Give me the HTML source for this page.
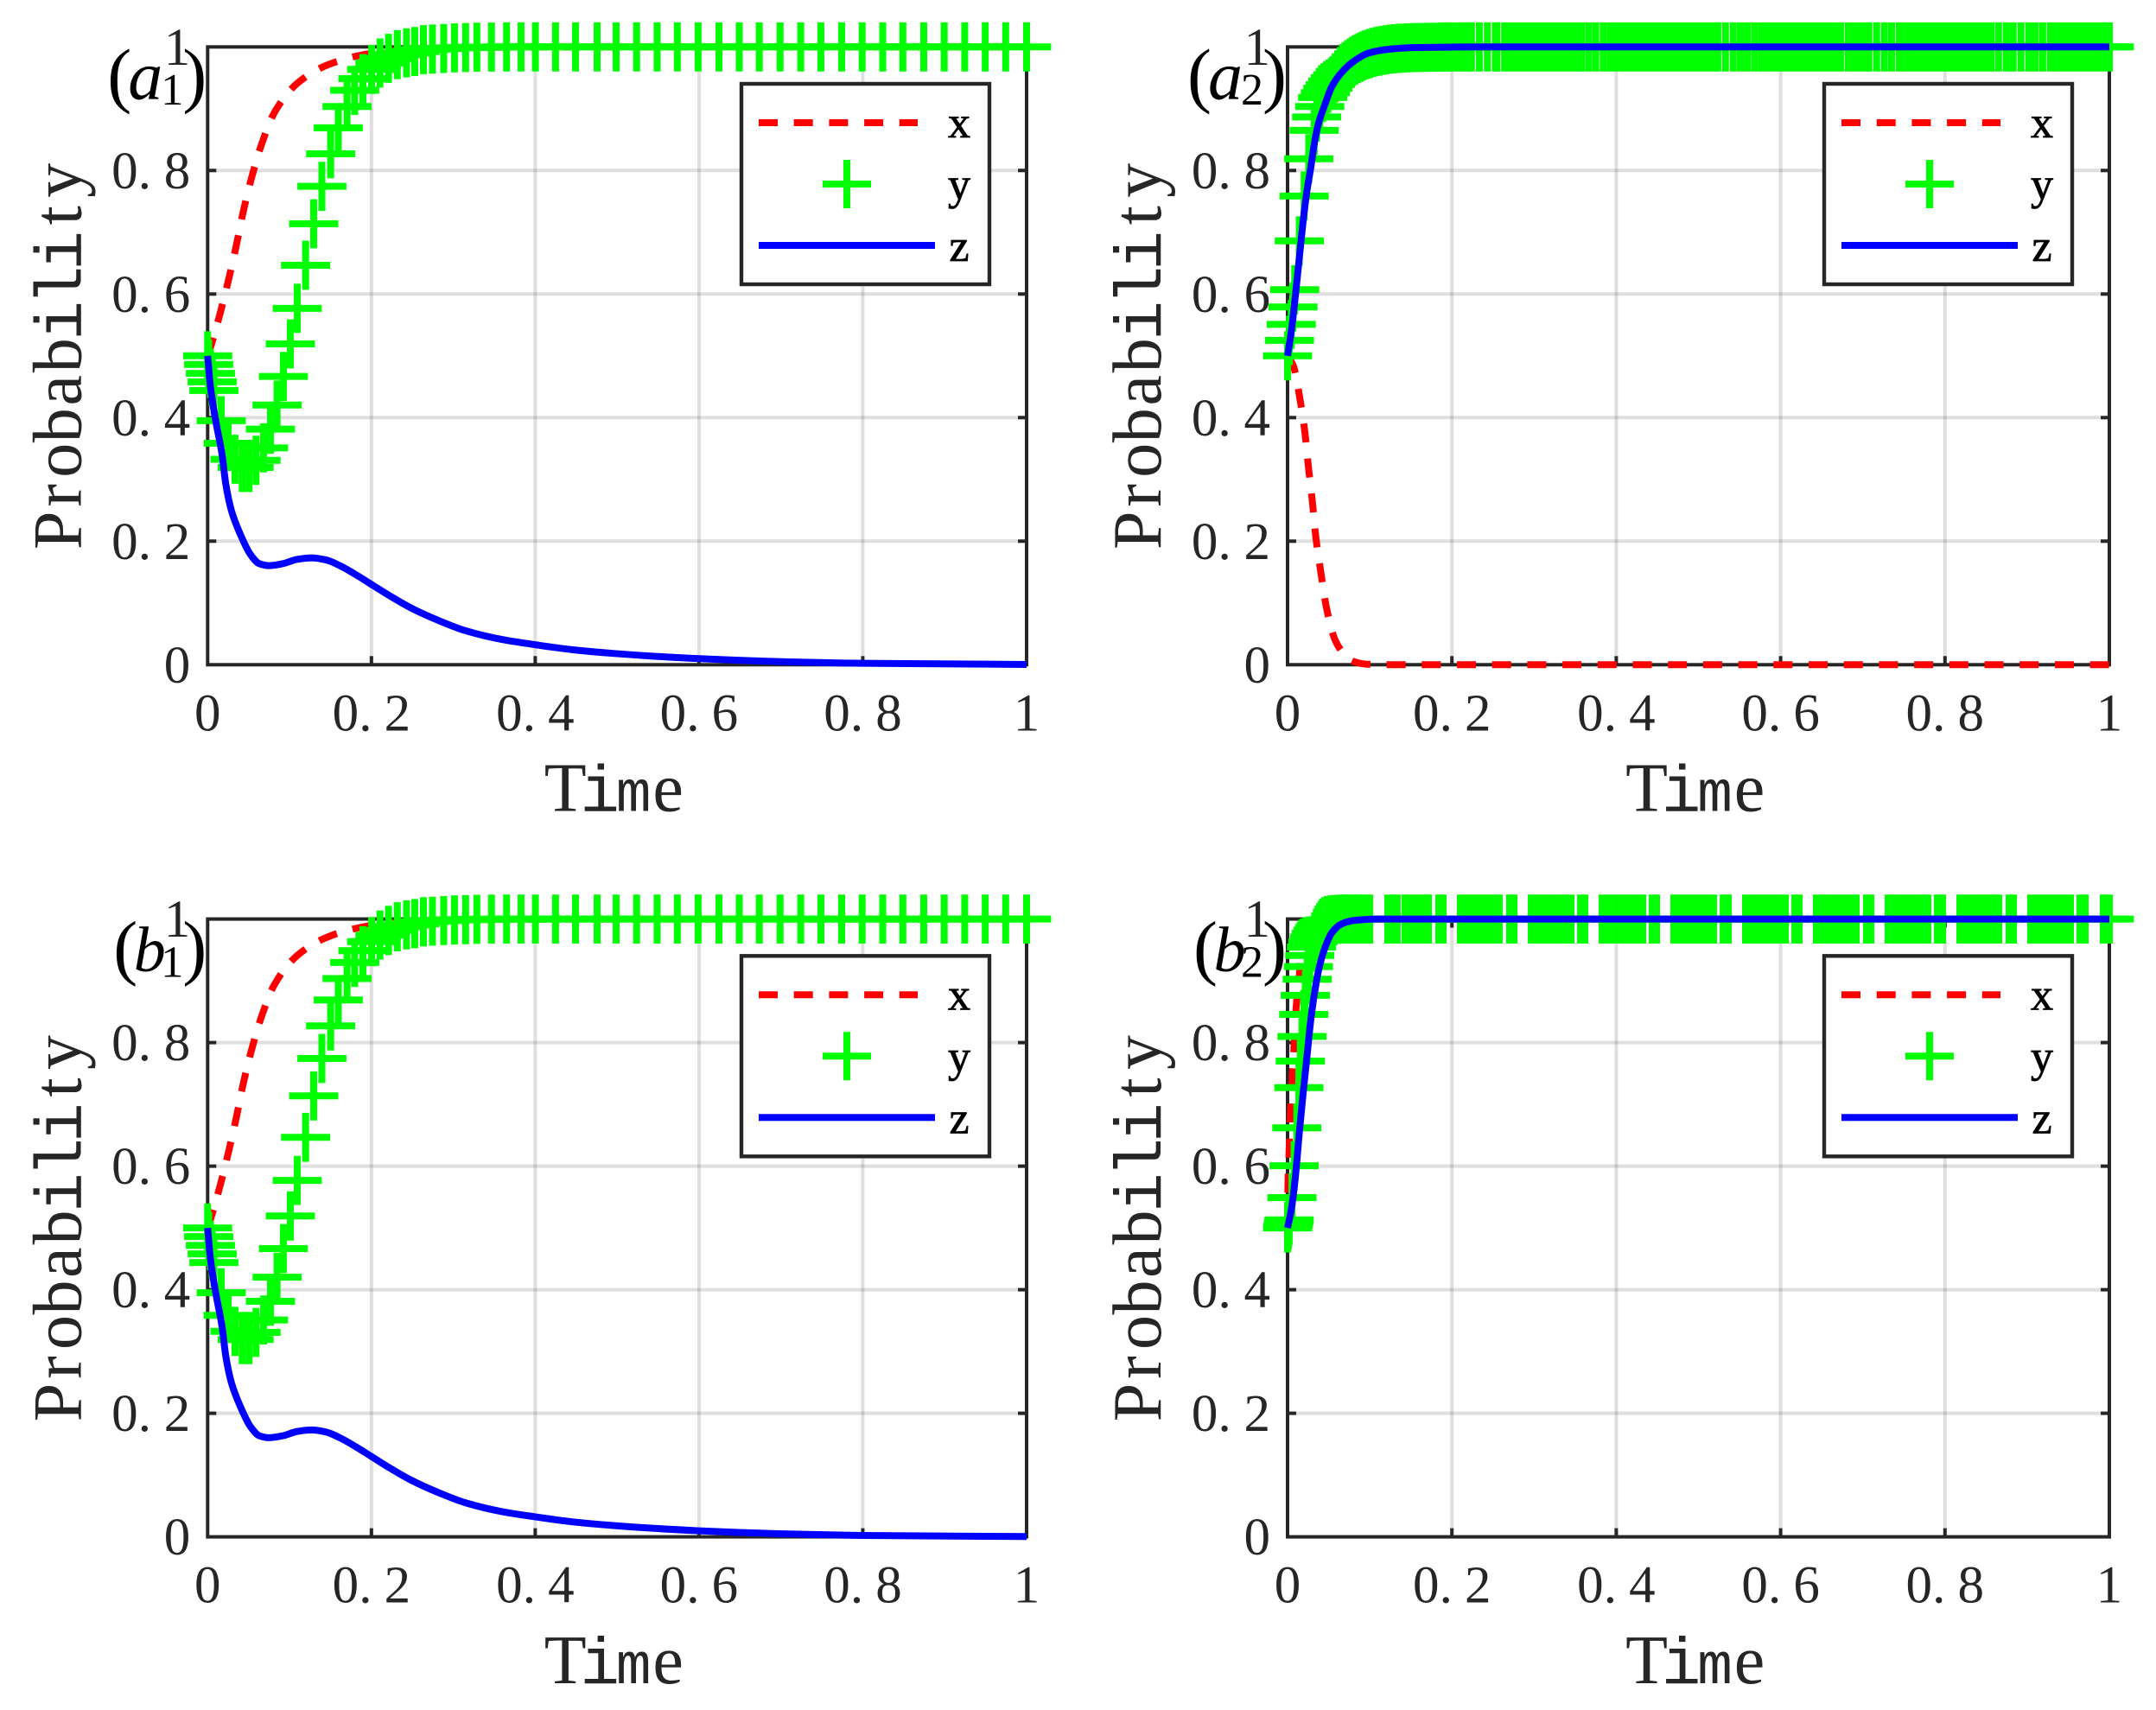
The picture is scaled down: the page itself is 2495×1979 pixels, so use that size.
<!DOCTYPE html>
<html lang="en">
<head>
<meta charset="utf-8">
<title>Probability evolution panels</title>
<style>
html,body{margin:0;padding:0;background:#fff;}
svg{display:block;}
text{font-family:"Liberation Serif","Noto Serif CJK SC",serif;}
.mono{font-family:"Liberation Mono","Noto Sans CJK SC",monospace;}
</style>
</head>
<body>
<svg id="chart" xmlns="http://www.w3.org/2000/svg" width="2495" height="1979" viewBox="0 0 2495 1979"></svg>
<script>
const xTickValues = [0, 0.2, 0.4, 0.6, 0.8, 1];
const yTickValues = [0, 0.2, 0.4, 0.6, 0.8, 1];
const xTickLabels = ['0', '0.2', '0.4', '0.6', '0.8', '1'];
const yTickLabels = ['0', '0.2', '0.4', '0.6', '0.8', '1'];
const legendLabels = ['x', 'y', 'z'];

/* Panel a1 */
const a1XTime = [0,.0047,.0151,.0255,.0349,.0434,.0538,.066,.0816,.1094,.1448,.1849,.218,.265,.36,.5,.75,1];
const a1XProb = [.5,.519,.568,.623,.678,.733,.789,.843,.894,.941,.97,.986,.993,.9975,.9995,.9999,1,1];
const a1ZTime = [0,.0033,.0104,.0175,.0222,.0289,.0394,.0525,.063,.0744,.0919,.1094,.1269,.1444,.1619,.1837,.2,.223,.249,.28,.315,.3587,.399,.446,.4987,.6,.709,.8,1];
const a1ZProb = [.5,.451,.391,.341,.292,.25,.2126,.178,.1636,.1604,.1636,.1706,.173,.1697,.16,.1436,.13,.111,.0914,.0727,.055,.041,.0326,.0242,.018,.0098,.0047,.0023,.0005];
const a1YTime = [0,.0013,.0034,.0055,.0076,.0166,.025,.0334,.0422,.0506,
  .0591,.0683,.0767,.0848,.0925,.101,.1094,.1196,.1295,.1395,
  .1502,.1595,.1702,.1796,.1896,.2002,.2104,.2208,.2316,.2429,
  .2529,.2635,.2745,.2882,.3014,.315,.3287,.3466,.365,.3827,
  .4002,.4248,.4492,.4756,.4988,.5238,.5489,.5735,.5989,.6244,
  .6491,.6736,.699,.7242,.7488,.7742,.7992,.8243,.8489,.8744,
  .8994,.9245,.9495,.9745,1];
const a1YProb = [.5,.486,.4716,.458,.444,.395,.3585,.3326,.3193,.3193,
  .3309,.351,.3813,.4203,.4666,.5193,.5769,.6466,.7137,.7743,
  .827,.8691,.9036,.9297,.9487,.9635,.974,.9815,.9875,.9905,
  .9925,.9955,.9965,.9975,.9985,.999,.9995,.9997,1,1,
  1,1,1,1,1,1,1,1,1,1,
  1,1,1,1,1,1,1,1,1,1,
  1,1,1,1,1];

/* Panel a2 */
const a2XTime = [0,.007,.015,.0211,.0254,.0302,.0344,.0404,.047,.0579,.0684,.0789,.095,.12,1];
const a2XProb = [.5,.484,.431,.376,.32,.264,.2065,.1506,.0946,.04,.0177,.006,.001,0,0];
const a2ZTime = [0,.0047,.0094,.0141,.0188,.0235,.0282,.0329,.0376,.0446,.054,.0657,.0798,.0986,.122,.155,.25,1];
const a2ZProb = [.5,.541,.596,.656,.716,.766,.804,.846,.876,.9035,.936,.9585,.976,.99,.996,.999,1,1];
const a2YTime = [0,.0023,.0045,.0066,.0087,.0143,.0202,.0258,.0324,.0354,
  .0392,.0427,.046,.049,.052,.055,.058,.061,.064,.067,
  .07,.073,.076,.079,.082,.085,.088,.091,.094,.097,
  .1,.104,.108,.112,.116,.12,.125,.13,.135,.14,
  .146,.152,.158,.165,.172,.18,.187,
  .19,.196,.202,.208,.214,.2195,.2238,.2333,.2431,.2529,
  .2548,.2641,.2721,.2801,.2881,.2961,.3041,.3121,.3201,.3281,
  .3361,.3441,.3521,.3575,.3663,.375,.3841,.3926,.4006,.4086,
  .4166,.4246,.4326,.4406,.4486,.4566,.4646,.4726,.4806,.4886,
  .4966,.5046,.5126,.5206,.5235,.5329,.5423,.551,.5595,.5683,
  .5769,.5849,.5929,.6009,.6089,.6169,.6249,.6329,.6409,.6489,
  .6569,.6649,.6729,.6822,.6902,.6982,.7062,.7075,.7169,.7263,
  .735,.7442,.7522,.7602,.7682,.7762,.7842,.7922,.8002,.8082,
  .8162,.8242,.8322,.8402,.8482,.8562,.8652,.8746,.883,.8925,
  .9019,.9099,.9189,.9282,.9362,.9442,.9522,.9602,.9682,.9762,
  .9842,.9922,1];
const a2YProb = [.5,.525,.551,.579,.607,.686,.7586,.819,.865,.8866,
  .9035,.918,.926,.933,.939,.945,.95,.955,.96,.9647,
  .968,.971,.974,.9765,.979,.981,.983,.985,.987,.988,
  .9895,.9912,.9925,.9935,.9945,.9955,.9965,.997,.9977,.998,
  .9985,.9988,.999,.9992,.9994,.9996,.9998,
  1,1,1,1,1,1,1,1,1,1,
  1,1,1,1,1,1,1,1,1,1,
  1,1,1,1,1,1,1,1,1,1,
  1,1,1,1,1,1,1,1,1,1,
  1,1,1,1,1,1,1,1,1,1,
  1,1,1,1,1,1,1,1,1,1,
  1,1,1,1,1,1,1,1,1,1,
  1,1,1,1,1,1,1,1,1,1,
  1,1,1,1,1,1,1,1,1,1,
  1,1,1,1,1,1,1,1,1,1,
  1,1,1];

/* Panel b1 */
const b1XTime = [0,.0047,.0151,.0255,.0349,.0434,.0538,.066,.0816,.1094,.1448,.1849,.218,.265,.33,.5,.75,1];
const b1XProb = [.5,.519,.568,.623,.678,.733,.789,.843,.894,.941,.97,.986,.993,.9975,.9995,1,1,1];
const b1ZTime = [0,.0033,.0104,.0175,.0222,.0289,.0394,.0525,.063,.0744,.0919,.1094,.1269,.1444,.1619,.1837,.2,.223,.249,.28,.315,.3587,.399,.446,.4987,.6,.709,.8,1];
const b1ZProb = [.5,.451,.391,.341,.292,.25,.2126,.178,.1636,.1604,.1636,.1706,.173,.1697,.16,.1436,.13,.111,.0914,.0727,.055,.041,.0326,.0242,.018,.0098,.0047,.0023,.0005];
const b1YTime = [0,.0013,.0034,.0055,.0076,.0166,.025,.0334,.0422,.0506,
  .0591,.0683,.0767,.0848,.0925,.101,.1094,.1196,.1295,.1395,
  .1502,.1595,.1702,.1796,.1896,.2002,.2104,.2208,.2316,.2429,
  .2529,.2635,.2745,.2882,.3014,.315,.3287,.3466,.365,.3827,
  .4002,.4248,.4492,.4756,.4988,.5238,.5489,.5735,.5989,.6244,
  .6491,.6736,.699,.7242,.7488,.7742,.7992,.8243,.8489,.8744,
  .8994,.9245,.9495,.9745,1];
const b1YProb = [.5,.486,.4716,.458,.444,.395,.3585,.3326,.3193,.3193,
  .3309,.351,.3813,.4203,.4666,.5193,.5769,.6466,.7137,.7743,
  .827,.8691,.9036,.9297,.9487,.9635,.974,.9815,.9875,.9905,
  .9925,.9955,.9965,.9975,.9985,.999,.9995,.9998,1,1,
  1,1,1,1,1,1,1,1,1,1,
  1,1,1,1,1,1,1,1,1,1,
  1,1,1,1,1];

/* Panel b2 */
const b2XTime = [0,.0005,.0019,.0033,.0056,.008,.0103,.0141,.0188,.028,.042,.07,1];
const b2XProb = [.5,.569,.626,.684,.741,.796,.854,.906,.961,.991,.9985,1,1];
const b2ZTime = [0,.0047,.0094,.0141,.0188,.0235,.0282,.0329,.0376,.0446,.054,.0657,.0798,.108,1];
const b2ZProb = [.5,.531,.581,.651,.716,.776,.836,.881,.916,.95,.978,.992,.9975,1,1];
const b2YTime = [0,.0005,.001,.0015,.002,.0054,.008,.0113,.0138,.0155,
  .0176,.0197,.0216,.0239,.0254,.027,.0291,.031,.033,.035,
  .037,.039,.041,.043,.045,.048,.052,.056,.06,.065,
  .07,.075,.08,.086,.092,.0999,.122,.1278,.1335,.143,
  .151,.159,.167,.1714,.184,.1893,.2103,.2182,.2261,.234,
  .2419,.2498,.2576,.2702,.2755,.2965,.3046,.3127,.3208,.3289,
  .337,.3449,.3565,.3617,.3828,.391,.3992,.4074,.4156,.4238,
  .4322,.4437,.449,.47,.4781,.4862,.4943,.5024,.5105,.5184,
  .53,.5363,.5573,.5654,.5735,.5816,.5897,.5978,.6057,.6172,
  .6225,.6435,.6516,.6597,.6678,.6759,.684,.6919,.7045,.7098,
  .7308,.7389,.747,.7551,.7632,.7713,.7792,.7907,.797,.8181,
  .826,.8339,.8418,.8497,.8576,.8654,.878,.8833,.9043,.9124,
  .9205,.9286,.9367,.9448,.9527,.9642,.9706,.9926,1];
const b2YProb = [.5,.503,.506,.51,.513,.549,.6007,.662,.727,.77,
  .81,.8456,.8766,.9025,.923,.941,.9545,.963,.971,.977,
  .982,.986,.99,.9935,.9955,.9975,.9985,.999,.9995,1,
  1,1,1,1,1,1,1,1,1,1,
  1,1,1,1,1,1,1,1,1,1,
  1,1,1,1,1,1,1,1,1,1,
  1,1,1,1,1,1,1,1,1,1,
  1,1,1,1,1,1,1,1,1,1,
  1,1,1,1,1,1,1,1,1,1,
  1,1,1,1,1,1,1,1,1,1,
  1,1,1,1,1,1,1,1,1,1,
  1,1,1,1,1,1,1,1,1,1,
  1,1,1,1,1,1,1,1,1];

const NS = 'http://www.w3.org/2000/svg';
const svg = document.getElementById('chart');
const INK = '#262626';

function make(tag, attrs, parent, text) {
  const n = document.createElementNS(NS, tag);
  for (const k in attrs) n.setAttribute(k, attrs[k]);
  if (text !== undefined) n.textContent = text;
  parent.appendChild(n);
  return n;
}

/* Monotone cubic path through the data samples, so curves stay smooth without overshoot. */
function curvePath(times, probs, sx, sy) {
  const px = times.map(sx), py = probs.map(sy), n = px.length;
  const h = [], s = [];
  for (let i = 0; i < n - 1; i++) {
    h[i] = px[i + 1] - px[i];
    s[i] = (py[i + 1] - py[i]) / h[i];
  }
  const m = [s[0]];
  for (let i = 1; i < n - 1; i++) {
    if (s[i - 1] * s[i] <= 0) { m[i] = 0; continue; }
    const w1 = 2 * h[i] + h[i - 1], w2 = h[i] + 2 * h[i - 1];
    m[i] = (w1 + w2) / (w1 / s[i - 1] + w2 / s[i]);
  }
  m[n - 1] = s[n - 2];
  let d = 'M' + px[0].toFixed(2) + ' ' + py[0].toFixed(2);
  for (let i = 0; i < n - 1; i++) {
    const c = h[i] / 3;
    d += 'C' + (px[i] + c).toFixed(2) + ' ' + (py[i] + m[i] * c).toFixed(2) + ' ' +
         (px[i + 1] - c).toFixed(2) + ' ' + (py[i + 1] - m[i + 1] * c).toFixed(2) + ' ' +
         px[i + 1].toFixed(2) + ' ' + py[i + 1].toFixed(2);
  }
  return d;
}

function drawPanel(p) {
  const g = make('g', {}, svg);
  
  

  const sx = t => p.left + (p.right - p.left) * t;
  const sy = v => p.bottom - (p.bottom - p.top) * v;

  /* grid */
  const grid = make('g', { stroke: INK, 'stroke-opacity': '0.15', 'stroke-width': 4, fill: 'none' }, g);
  
  
  xTickValues.slice(1, -1).forEach(v => {
    const l = make('line', { x1: sx(v), x2: sx(v), y1: p.top, y2: p.bottom }, grid);
    
    
  });
  yTickValues.slice(1, -1).forEach(v => {
    const l = make('line', { x1: p.left, x2: p.right, y1: sy(v), y2: sy(v) }, grid);
    
    
  });

  /* axes box */
  const box = make('rect', { x: p.left, y: p.top, width: p.right - p.left, height: p.bottom - p.top, fill: 'none', stroke: INK, 'stroke-width': 4 }, g);
  
  

  /* ticks */
  const ticks = make('g', { stroke: INK, 'stroke-width': 4, fill: 'none' }, g);
  
  
  xTickValues.slice(1, -1).forEach(v => {
    const a = make('line', { x1: sx(v), x2: sx(v), y1: p.bottom, y2: p.bottom - 10 }, ticks);
    
    
    const b = make('line', { x1: sx(v), x2: sx(v), y1: p.top, y2: p.top + 10 }, ticks);
    
    
  });
  yTickValues.slice(1, -1).forEach(v => {
    const a = make('line', { x1: p.left, x2: p.left + 10, y1: sy(v), y2: sy(v) }, ticks);
    
    
    const b = make('line', { x1: p.right, x2: p.right - 10, y1: sy(v), y2: sy(v) }, ticks);
    
    
  });

  /* x series */
  const xLine = make('path', { d: curvePath(p.xT, p.xV, sx, sy), fill: 'none', stroke: '#ff0000', 'stroke-width': 8, 'stroke-dasharray': '22 18.7', 'stroke-linejoin': 'round' }, g);
  
  

  /* y series */
  const yGroup = make('g', { stroke: '#00ff00', 'stroke-width': 8, fill: 'none' }, g);
  
  
  p.yT.forEach((t, i) => {
    const cx = sx(t), cy = sy(p.yV[i]);
    const m = make('path', { d: 'M' + (cx - 28.4).toFixed(2) + ' ' + cy.toFixed(2) + 'H' + (cx + 28.4).toFixed(2) + 'M' + cx.toFixed(2) + ' ' + (cy - 28.4).toFixed(2) + 'V' + (cy + 28.4).toFixed(2) }, yGroup);
    
    
  });

  /* z series */
  const zLine = make('path', { d: curvePath(p.zT, p.zV, sx, sy), fill: 'none', stroke: '#0000ff', 'stroke-width': 8, 'stroke-linejoin': 'round' }, g);
  
  

  /* tick labels */
  const anchorRight = p.left - 35.3;
  yTickLabels.forEach((s, i) => {
    const yPos = sy(yTickValues[i]) + 20.5;
    const xs = s.length === 3 ? [anchorRight - 60.6, anchorRight - 37.6, anchorRight] : [anchorRight];
    const t = make('text', { x: xs.join(' '), y: yPos, 'font-size': 61, fill: INK, 'text-anchor': 'middle' }, g, s);
    
    
  });
  xTickLabels.forEach((s, i) => {
    const c = sx(xTickValues[i]);
    const xs = s.length === 3 ? [c - 30, c - 7, c + 30] : [c];
    const t = make('text', { x: xs.join(' '), y: p.bottom + 76, 'font-size': 61, fill: INK, 'text-anchor': 'middle' }, g, s);
    
    
  });

  /* axis titles: every character sits in its own fixed-width cell */
  const timeCenter = (p.left + p.right) / 2 - 1;
  const timeTitle = make('text', { y: p.bottom + 169.4, 'font-size': 80, fill: INK, 'text-anchor': 'middle' }, g);
  
  
  make('tspan', { x: timeCenter - 59 }, timeTitle, 'T');
  make('tspan', { x: timeCenter - 19, class: 'mono', 'font-size': 76 }, timeTitle, 'i');
  make('tspan', { x: timeCenter + 20, class: 'mono', 'font-size': 68 }, timeTitle, 'm');
  make('tspan', { x: timeCenter + 60 }, timeTitle, 'e');

  const probTitle = make('text', { y: 0, transform: 'translate(' + (p.left - 146.8) + ',' + (p.top + 579.7) + ') rotate(-90)', 'font-size': 80, fill: INK, 'text-anchor': 'middle' }, g);
  
  
  Array.from('Probability').forEach((ch, k) => {
    const attrs = { x: (20.25 + 40.5 * k).toFixed(2) };
    if (ch === 'i' || ch === 'l') { attrs.class = 'mono'; attrs['font-size'] = 76; }
    make('tspan', attrs, probTitle, ch);
  });

  /* panel label */
  const isB = p.letter === 'b';
  const label = make('text', { y: p.top + 60.2, fill: '#000', 'text-anchor': 'middle' }, g);
  
  
  make('tspan', { x: p.left + (isB ? -95 : -102), 'font-size': 84 }, label, '(');
  make('tspan', { x: p.left + (isB ? -67 : -72), 'font-size': isB ? 74 : 80, 'font-style': 'italic' }, label, p.letter);
  make('tspan', { x: p.left - 41, dy: 6.5, 'font-size': 52 }, label, p.sub);
  make('tspan', { x: p.left - 15, dy: -6.5, 'font-size': 84 }, label, ')');

  /* legend */
  const lx = p.legendLeft, ly = p.top + 40.7;
  const legend = make('g', {}, g);
  
  
  const frame = make('rect', { x: lx + 2, y: ly + 2, width: 287, height: 232, fill: '#fff', stroke: INK, 'stroke-width': 4.4 }, legend);
  
  
  const keyX = make('line', { x1: lx + 22, x2: lx + 206, y1: ly + 47, y2: ly + 47, stroke: '#ff0000', 'stroke-width': 8, 'stroke-dasharray': '22 18.7' }, legend);
  
  
  const keyY = make('path', { d: 'M' + (lx + 96) + ' ' + (ly + 118) + 'H' + (lx + 152) + 'M' + (lx + 124) + ' ' + (ly + 90) + 'V' + (ly + 146), stroke: '#00ff00', 'stroke-width': 8, fill: 'none' }, legend);
  
  
  const keyZ = make('line', { x1: lx + 22, x2: lx + 226, y1: ly + 189, y2: ly + 189, stroke: '#0000ff', 'stroke-width': 8 }, legend);
  
  
  legendLabels.forEach((s, i) => {
    const t = make('text', { x: lx + 254, y: ly + 64 + 71.5 * i, 'font-size': 52, fill: '#000', stroke: '#000', 'stroke-width': 0.8, 'text-anchor': 'middle' }, legend, s);
    
    
  });
}

drawPanel({ id: 'a1', letter: 'a', sub: '1', left: 240.3, right: 1188, top: 54.3, bottom: 769.3, legendLeft: 856, xT: a1XTime, xV: a1XProb, yT: a1YTime, yV: a1YProb, zT: a1ZTime, zV: a1ZProb });
drawPanel({ id: 'a2', letter: 'a', sub: '2', left: 1490, right: 2441, top: 54.3, bottom: 769.3, legendLeft: 2109, xT: a2XTime, xV: a2XProb, yT: a2YTime, yV: a2YProb, zT: a2ZTime, zV: a2ZProb });
drawPanel({ id: 'b1', letter: 'b', sub: '1', left: 240.3, right: 1188, top: 1063.6, bottom: 1778.6, legendLeft: 856, xT: b1XTime, xV: b1XProb, yT: b1YTime, yV: b1YProb, zT: b1ZTime, zV: b1ZProb });
drawPanel({ id: 'b2', letter: 'b', sub: '2', left: 1490, right: 2441, top: 1063.6, bottom: 1778.6, legendLeft: 2109, xT: b2XTime, xV: b2XProb, yT: b2YTime, yV: b2YProb, zT: b2ZTime, zV: b2ZProb });
</script>
</body>
</html>
